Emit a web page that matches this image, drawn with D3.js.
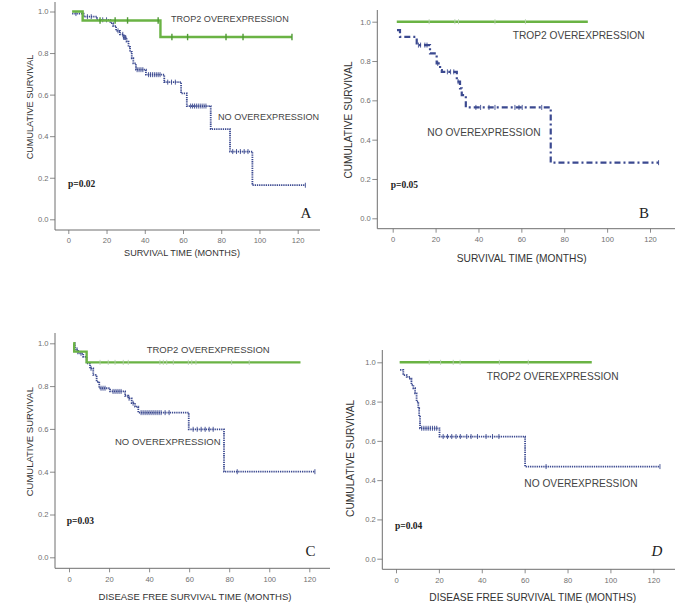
<!DOCTYPE html>
<html>
<head>
<meta charset="utf-8">
<script src="https://cdn.jsdelivr.net/npm/d3@7/dist/d3.min.js"></script>
<style>
body{margin:0;background:#fff;}
svg{display:block;}
</style>
</head>
<body>
<svg id="chart" width="685" height="616" font-family="'Liberation Sans', Arial, sans-serif"></svg>
<script>

//******************************************************************************
//**  Data
//******************************************************************************
var xTicks = [0, 20, 40, 60, 80, 100, 120];
var yTicks = [0, 0.2, 0.4, 0.6, 0.8, 1.0];
var trop2Label = "TROP2 OVEREXPRESSION";
var noLabel = "NO OVEREXPRESSION";

//A: overall survival
var aTropTime = [2, 7.5, 48.2];
var aTropSurv = [1, 0.957, 0.877];
var aTropEnd = 117;
var aTropCensor = [16.6, 24.5, 31, 47, 54.2, 62.4, 82.5, 91.4, 117];
var aNoTime = [2, 8, 15, 22, 23.5, 25, 27, 29, 30.5, 31.5, 32.3, 33.2, 34, 35.4, 40.6, 50.2, 59, 62, 74.5, 84.6, 96.3];
var aNoSurv = [0.99, 0.975, 0.96, 0.944, 0.93, 0.907, 0.89, 0.875, 0.855, 0.83, 0.806, 0.775, 0.75, 0.72, 0.696, 0.66, 0.606, 0.545, 0.434, 0.326, 0.164];
var aNoEnd = 124;
var aNoCensor = [4, 10, 12, 18, 20, 26, 28.5, 29, 29.5, 30, 36, 37, 38, 39, 42, 43, 44, 45, 46, 47, 48, 52, 54, 56, 64, 65, 66, 67, 68, 69, 70, 71, 72, 86, 88, 90, 92, 94, 124];

//B: overall survival (subgroup)
var bTropTime = [1.9];
var bTropSurv = [1];
var bTropEnd = 91;
var bTropCensor = [17, 29, 30.7, 47.7, 61.9];
var bNoTime = [2, 3.4, 11.2, 17.4, 20.5, 22.1, 22.9, 29.9, 31.4, 32.2, 34.1, 73.7];
var bNoSurv = [0.957, 0.923, 0.881, 0.839, 0.788, 0.754, 0.745, 0.695, 0.661, 0.627, 0.564, 0.283];
var bNoEnd = 124;
var bNoCensor = [12, 13, 15, 16, 21, 25.5, 27, 28.5, 30.5, 38.8, 41, 44.9, 47.7, 57, 58.9, 60.4, 69.5, 124];

//C: disease free survival
var cTropTime = [2.1, 2.6, 8.8];
var cTropSurv = [1, 0.961, 0.911];
var cTropEnd = 115.6;
var cTropCensor = [15.5, 19.6, 23, 27.1, 29.6, 45.4, 47.1, 48.8, 52.1, 59.6, 61.3, 63.4, 81.2, 90];
var cNoTime = [2.5, 3, 4.6, 7.1, 8.8, 10.5, 12.1, 13.8, 15.1, 20.5, 28, 29.6, 31.3, 33, 34.6, 59.8, 77.4];
var cNoSurv = [1, 0.97, 0.953, 0.937, 0.906, 0.883, 0.852, 0.82, 0.79, 0.775, 0.755, 0.743, 0.72, 0.704, 0.676, 0.598, 0.40];
var cNoEnd = 122.8;
var cNoCensor = [4, 6, 11, 16, 17, 18, 22, 23, 24, 25, 26, 30, 32, 36, 37, 38, 39, 40, 41, 42, 43, 44, 45, 46, 48, 50, 62, 64, 66, 68, 70, 72, 84, 122.8];

//D: disease free survival (subgroup)
var dTropTime = [1.7];
var dTropSurv = [1];
var dTropEnd = 91.3;
var dTropCensor = [15.5, 20.8, 26.7, 29.9, 48.2, 61.7];
var dNoTime = [1.9, 3.4, 5, 6.5, 7.2, 8.1, 8.9, 9.6, 10.4, 10.8, 11.2, 20.3, 60.2];
var dNoSurv = [0.961, 0.935, 0.926, 0.917, 0.885, 0.868, 0.842, 0.80, 0.766, 0.723, 0.664, 0.622, 0.469];
var dNoEnd = 123.1;
var dNoCensor = [12, 13, 14, 15, 16, 17, 18, 19, 22, 24, 26, 28, 30, 33, 35, 38, 42, 45, 48, 70, 123.1];


//******************************************************************************
//**  Panels
//******************************************************************************
var panels = [
    {
        letter: "A", italic: false, pValue: "p=0.02", xTitle: "SURVIVAL TIME (MONTHS)",
        font: 9.1, axisX: 55, axisY: 230, top: 2, right: 320,
        xRange: [68.3, 297.7], yRange: [219.3, 11.5],
        trop: {time: aTropTime, surv: aTropSurv, end: aTropEnd, censor: aTropCensor},
        no: {time: aNoTime, surv: aNoSurv, end: aNoEnd, censor: aNoCensor},
        dash: "1.3,0.9", tropTick: true,
        yTitle: [30, 107], xTitlePos: [182, 255.5],
        tropPos: [171, 21.5], noPos: [218, 119.5], pPos: [68, 186.5], letterPos: [300.5, 218]
    },
    {
        letter: "B", italic: false, pValue: "p=0.05", xTitle: "SURVIVAL TIME (MONTHS)",
        font: 10.2, axisX: 377.3, axisY: 228.7, top: 10, right: 675,
        xRange: [392.7, 650], yRange: [218.3, 21.7],
        trop: {time: bTropTime, surv: bTropSurv, end: bTropEnd, censor: bTropCensor},
        no: {time: bNoTime, surv: bNoSurv, end: bNoEnd, censor: bNoCensor},
        dash: "6,3,2,3", tropTick: false,
        yTitle: [348, 120], xTitlePos: [521.7, 261.5],
        tropPos: [512.7, 38.8], noPos: [427.3, 135.5], pPos: [390.7, 187.5], letterPos: [639, 218]
    },
    {
        letter: "C", italic: false, pValue: "p=0.03", xTitle: "DISEASE FREE SURVIVAL TIME (MONTHS)",
        font: 9.5, axisX: 55, axisY: 568.3, top: 333, right: 330,
        xRange: [69, 309.3], yRange: [557.3, 343.3],
        trop: {time: cTropTime, surv: cTropSurv, end: cTropEnd, censor: cTropCensor},
        no: {time: cNoTime, surv: cNoSurv, end: cNoEnd, censor: cNoCensor},
        dash: "1.3,0.9", tropTick: false,
        yTitle: [30, 441.7], xTitlePos: [195, 600.3],
        tropPos: [146.7, 352.8], noPos: [115, 444.5], pPos: [66.7, 524], letterPos: [305.5, 555.5]
    },
    {
        letter: "D", italic: true, pValue: "p=0.04", xTitle: "DISEASE FREE SURVIVAL TIME (MONTHS)",
        font: 10.2, axisX: 382.3, axisY: 569.3, top: 350, right: 675,
        xRange: [396, 653.3], yRange: [558.7, 362.3],
        trop: {time: dTropTime, surv: dTropSurv, end: dTropEnd, censor: dTropCensor},
        no: {time: dNoTime, surv: dNoSurv, end: dNoEnd, censor: dNoCensor},
        dash: "1.3,0.9", tropTick: false,
        yTitle: [350, 458.3], xTitlePos: [532.7, 600.5],
        tropPos: [486.7, 379.5], noPos: [524.3, 487], pPos: [395, 529], letterPos: [651.5, 556]
    }
];

var green = "#6ab344";
var blue = "#3b4990";
var gray = "#6f6f6f";
var sans = "'Liberation Sans', Arial, sans-serif";
var serif = "'Liberation Serif', 'Times New Roman', serif";

var svg = d3.select("#chart");


//**************************************************************************
//** survAt
//**************************************************************************
var survAt = function(series, t){
    var s = series.surv[0];
    for (var i=0; i<series.time.length; i++){
        if (series.time[i] <= t) s = series.surv[i];
    }
    return s;
};


//**************************************************************************
//** drawCurve
//**************************************************************************
var drawCurve = function(g, series, x, y, style){

    var pts = series.time.map(function(t, i){ return [t, series.surv[i]]; });
    pts.push([series.end, series.surv[series.surv.length-1]]);

    var line = d3.line()
      .curve(d3.curveStepAfter)
      .x(function(d){ return x(d[0]); })
      .y(function(d){ return y(d[1]); });

    g.append("path")
      .attr("d", line(pts))
      .attr("fill", "none")
      .attr("stroke", style.color)
      .attr("stroke-width", style.width)
      .attr("stroke-dasharray", style.dash || null);

  //Censor marks
    g.selectAll(null)
      .data(series.censor)
      .enter().append("line")
      .attr("x1", function(d){ return x(d); })
      .attr("x2", function(d){ return x(d); })
      .attr("y1", function(d){ return y(survAt(series, d)) - style.tick; })
      .attr("y2", function(d){ return y(survAt(series, d)) + style.tick; })
      .attr("stroke", style.tickColor)
      .attr("stroke-width", style.tickWidth);
};


//**************************************************************************
//** drawPanel
//**************************************************************************
var drawPanel = function(p){

    var g = svg.append("g");
    var x = d3.scaleLinear().domain([0, 120]).range(p.xRange);
    var y = d3.scaleLinear().domain([0, 1]).range(p.yRange);

  //Axes
    var yAxis = d3.axisLeft(y).tickValues(yTicks).tickSize(5).tickPadding(1.5)
      .tickFormat(d3.format(".1f"));
    var xAxis = d3.axisBottom(x).tickValues(xTicks).tickSize(4).tickPadding(4);

    var ya = g.append("g").attr("transform", "translate(" + p.axisX + ",0)").call(yAxis);
    var xa = g.append("g").attr("transform", "translate(0," + p.axisY + ")").call(xAxis);
    [ya, xa].forEach(function(a){
        a.attr("font-family", sans);
        a.select(".domain").remove();
        a.selectAll("line").attr("stroke", gray).attr("stroke-width", 0.8);
        a.selectAll("text").attr("fill", gray).attr("font-size", 7.6);
    });

    g.append("line")
      .attr("x1", p.axisX).attr("x2", p.axisX)
      .attr("y1", p.top).attr("y2", p.axisY)
      .attr("stroke", gray).attr("stroke-width", 1);
    g.append("line")
      .attr("x1", p.axisX).attr("x2", p.right)
      .attr("y1", p.axisY).attr("y2", p.axisY)
      .attr("stroke", gray).attr("stroke-width", 1);

  //Curves
    drawCurve(g, p.no, x, y, {
        color: blue, width: p.dash==="6,3,2,3" ? 2.2 : 1.8, dash: p.dash,
        tick: 2.5, tickColor: blue, tickWidth: 0.9
    });
    drawCurve(g, p.trop, x, y, {
        color: green, width: 2.4,
        tick: p.tropTick ? 3.2 : 2.5,
        tickColor: p.tropTick ? "#4f9a35" : "#b5cfae",
        tickWidth: p.tropTick ? 1.4 : 0.9
    });

  //Titles
    g.append("text")
      .attr("transform", "translate(" + p.yTitle[0] + "," + p.yTitle[1] + ") rotate(-90)")
      .attr("text-anchor", "middle").attr("dy", "0.35em")
      .attr("font-size", p.font).attr("fill", "#333")
      .text("CUMULATIVE SURVIVAL");

    g.append("text")
      .attr("x", p.xTitlePos[0]).attr("y", p.xTitlePos[1])
      .attr("text-anchor", "middle")
      .attr("font-size", p.font).attr("fill", "#333")
      .text(p.xTitle);

    g.append("text")
      .attr("x", p.tropPos[0]).attr("y", p.tropPos[1])
      .attr("font-size", p.font).attr("fill", "#444")
      .text(trop2Label);

    g.append("text")
      .attr("x", p.noPos[0]).attr("y", p.noPos[1])
      .attr("font-size", p.font).attr("fill", "#444")
      .text(noLabel);

    g.append("text")
      .attr("x", p.pPos[0]).attr("y", p.pPos[1])
      .style("font-family", serif)
      .attr("font-weight", "bold").attr("font-size", 9.5).attr("fill", "#222")
      .text(p.pValue);

    g.append("text")
      .attr("x", p.letterPos[0]).attr("y", p.letterPos[1])
      .style("font-family", serif)
      .attr("font-style", p.italic ? "italic" : "normal")
      .attr("font-size", 15).attr("fill", "#222")
      .text(p.letter);
};

panels.forEach(drawPanel);

</script>
</body>
</html>
